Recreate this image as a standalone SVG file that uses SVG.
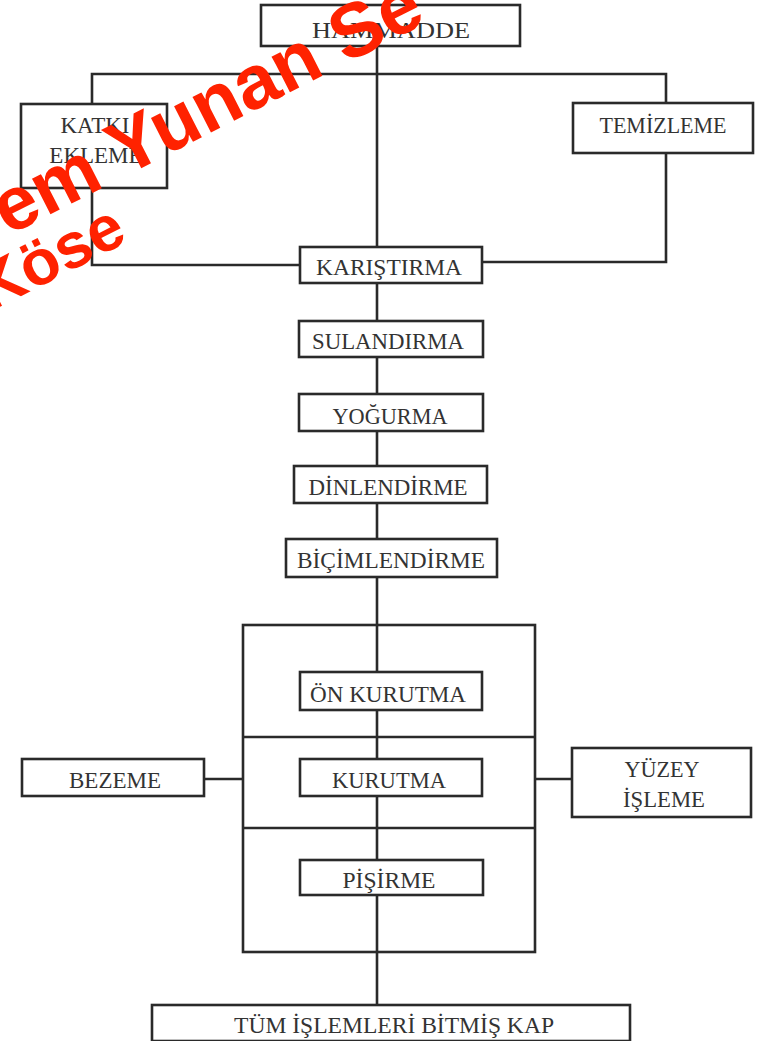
<svg xmlns="http://www.w3.org/2000/svg" width="760" height="1041" viewBox="0 0 760 1041">
<style>
.box{fill:#fff;stroke:#2a2a2a;stroke-width:2.6}
.ln{fill:none;stroke:#2a2a2a;stroke-width:2.6}
.t{font-family:"Liberation Serif","Times New Roman",serif;font-size:23px;fill:#333;text-anchor:middle}
.wm{font-family:"Liberation Sans",Arial,sans-serif;font-weight:bold;fill:#ff2200}
</style>
<rect width="760" height="1041" fill="#fff"/>
<g id="connectors">
<path class="ln" d="M377,46 V249"/>
<path class="ln" d="M92,104 V74 H666 V103"/>
<path class="ln" d="M92,188 V265 H300"/>
<path class="ln" d="M666,153 V262 H482"/>
<path class="ln" d="M377,283 V321 M377,357 V394 M377,431 V466 M377,503 V539 M377,577 V672 M377,710 V759 M377,796 V860 M377,895 V1005"/>
<path class="ln" d="M204,779 H243 M535,779 H572"/>
</g>
<g id="group-frame">
<rect class="ln" x="243" y="625" width="292" height="327"/>
<path class="ln" d="M243,737 H535 M243,828 H535"/>
</g>
<g id="hammadde"><rect class="box" x="261" y="5" width="259" height="41"/><text class="t" x="391" y="38" textLength="158" lengthAdjust="spacingAndGlyphs">HAMMADDE</text></g>
<g id="katki-ekleme"><rect class="box" x="21" y="104" width="146" height="84"/><text class="t" x="95" y="133">KATKI</text><text class="t" x="96" y="163">EKLEME</text></g>
<g id="temizleme"><rect class="box" x="573" y="103" width="180" height="50"/><text class="t" x="663" y="133" textLength="127" lengthAdjust="spacingAndGlyphs">TEMİZLEME</text></g>
<g id="karistirma"><rect class="box" x="300" y="247" width="182" height="36"/><text class="t" x="389" y="275" textLength="146" lengthAdjust="spacingAndGlyphs">KARIŞTIRMA</text></g>
<g id="sulandirma"><rect class="box" x="299" y="321" width="184" height="36"/><text class="t" x="388" y="349" textLength="152" lengthAdjust="spacingAndGlyphs">SULANDIRMA</text></g>
<g id="yogurma"><rect class="box" x="299" y="394" width="184" height="37"/><text class="t" x="390" y="424" textLength="115" lengthAdjust="spacingAndGlyphs">YOĞURMA</text></g>
<g id="dinlendirme"><rect class="box" x="294" y="466" width="193" height="37"/><text class="t" x="388" y="495" textLength="159" lengthAdjust="spacingAndGlyphs">DİNLENDİRME</text></g>
<g id="bicimlendirme"><rect class="box" x="286" y="539" width="211" height="38"/><text class="t" x="391" y="568" textLength="188" lengthAdjust="spacingAndGlyphs">BİÇİMLENDİRME</text></g>
<g id="on-kurutma"><rect class="box" x="300" y="672" width="182" height="38"/><text class="t" x="388" y="702" textLength="156" lengthAdjust="spacingAndGlyphs">ÖN KURUTMA</text></g>
<g id="kurutma"><rect class="box" x="300" y="759" width="182" height="37"/><text class="t" x="389" y="788" textLength="114" lengthAdjust="spacingAndGlyphs">KURUTMA</text></g>
<g id="bezeme"><rect class="box" x="22" y="759" width="182" height="37"/><text class="t" x="115" y="788" textLength="92" lengthAdjust="spacingAndGlyphs">BEZEME</text></g>
<g id="yuzey-isleme"><rect class="box" x="572" y="748" width="179" height="69"/><text class="t" x="662" y="777" textLength="75" lengthAdjust="spacingAndGlyphs">YÜZEY</text><text class="t" x="664" y="807" textLength="82" lengthAdjust="spacingAndGlyphs">İŞLEME</text></g>
<g id="pisirme"><rect class="box" x="300" y="860" width="183" height="35"/><text class="t" x="389" y="888" textLength="93" lengthAdjust="spacingAndGlyphs">PİŞİRME</text></g>
<g id="tum-islemleri"><rect class="box" x="152" y="1005" width="478" height="36"/><text class="t" x="394" y="1033" textLength="320" lengthAdjust="spacingAndGlyphs">TÜM İŞLEMLERİ BİTMİŞ KAP</text></g>
<g id="watermark">
<text class="wm" font-size="76" transform="translate(8,236) rotate(-27)">em Yunan Se</text>
<text class="wm" font-size="64" transform="translate(-10,312) rotate(-27)">Köse</text>
</g>
</svg>
